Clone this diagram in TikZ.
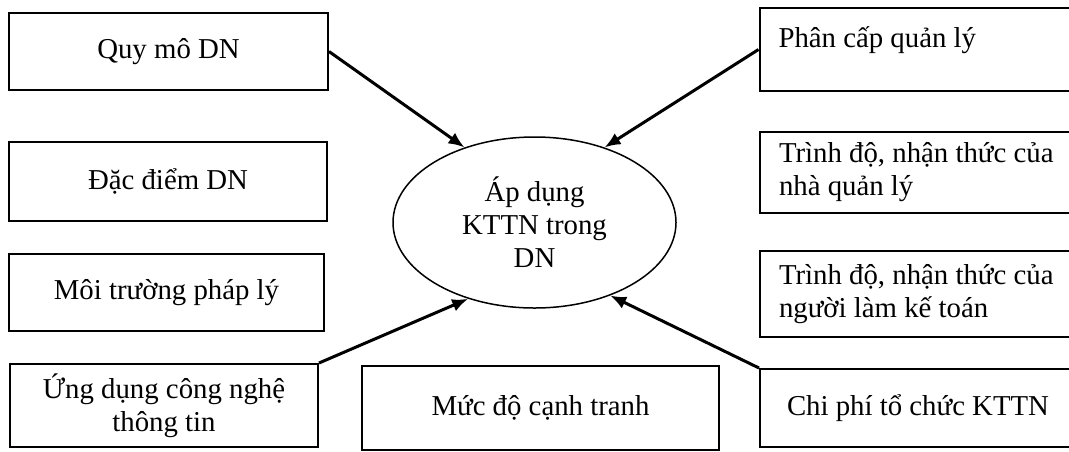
\documentclass[tikz,border=0pt]{standalone}
\usepackage{fontspec}
\setmainfont{Liberation Serif}
\usetikzlibrary{arrows.meta,shapes.geometric}
\tikzset{
	hop/.style={draw, line width=1pt, inner sep=0pt, align=center, font=\fontsize{14.4}{16.5}\selectfont},
	hopphai/.style={hop, align=flush left, text width=139pt, minimum width=158pt},
	muiten/.style={line width=1.5pt, -{Latex[length=8pt,width=6.5pt]}}
}
\begin{document}
\begin{tikzpicture}[x=0.5pt,y=-0.5pt]
	\useasboundingbox (0,0) rectangle (1069,451);
	% cac nhan to ben trai
	\node[hop, minimum width=159.5pt, minimum height=38.5pt] (quymo) at (168.5,51.5) {Quy mô DN};
	\node[hop, minimum width=159pt, minimum height=39.5pt] (dacdiem) at (168,181.5) {Đặc điểm DN};
	\node[hop, minimum width=157.5pt, minimum height=38.5pt] (phaply) at (166.5,292.5) {Môi trường pháp lý};
	\node[hop, minimum width=154pt, minimum height=41.5pt] (cntt) at (164,405.5) {Ứng dụng công nghệ\\thông tin};
	\node[hop, minimum width=178.5pt, minimum height=42pt] (canhtranh) at (540.5,408) {Mức độ cạnh tranh};
	% cac nhan to ben phai
	\node[hopphai, minimum height=41.5pt] (phancap) at (917.5,49.5) {Phân cấp quản lý\\[-9pt]\strut};
	\node[hopphai, minimum height=40.5pt] (nhaql) at (918,172.5) {Trình độ, nhận thức của\\nhà quản lý};
	\node[hopphai, minimum height=43pt] (ketoan) at (918,294) {Trình độ, nhận thức của\\người làm kế toán};
	\node[hop, minimum width=158pt, minimum height=39pt] (chiphi) at (918,408) {Chi phí tổ chức KTTN};
	% o giua
	\node[draw, ellipse, line width=0.75pt, minimum width=141.5pt, minimum height=85.5pt, inner sep=0pt,
		align=center, font=\fontsize{14.4}{16.5}\selectfont] (apdung) at (534.5,222.5) {Áp dụng\\KTTN trong\\DN};
	\foreach \tu/\goc in {quymo.east/133, phancap.west/47, cntt.north east/229, chiphi.north west/316}
		\draw[muiten] (\tu) -- (apdung.\goc);
\end{tikzpicture}
\end{document}
